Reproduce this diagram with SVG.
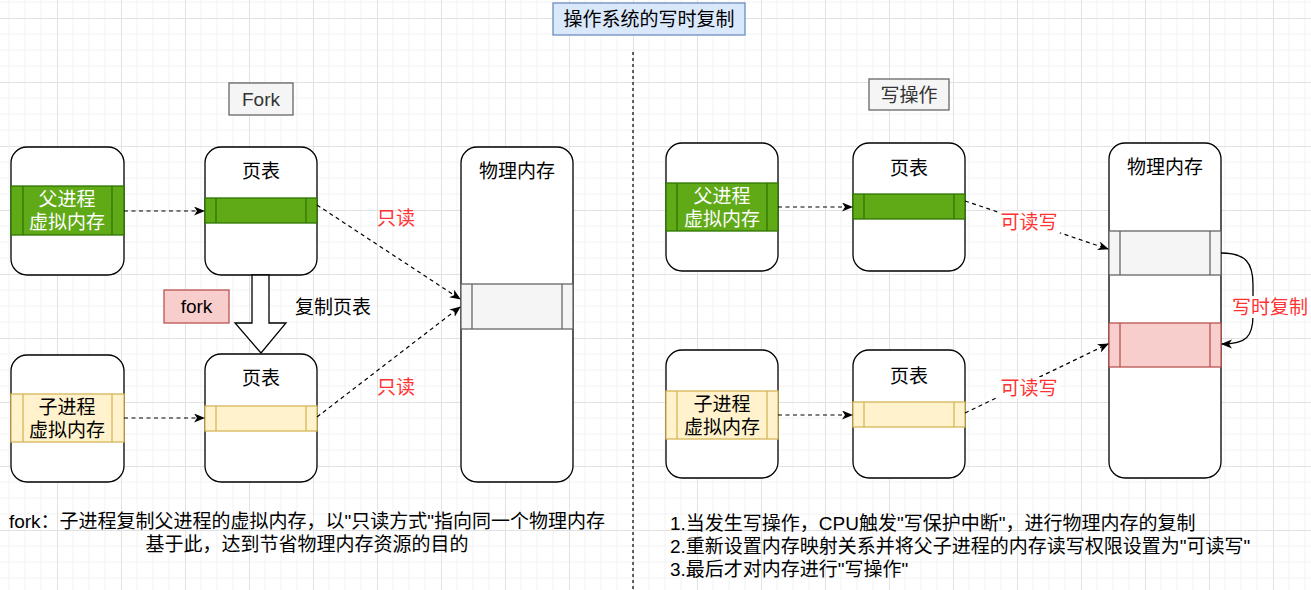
<svg xmlns="http://www.w3.org/2000/svg" width="1311" height="590" viewBox="0 0 1311 590">
<style>
text{font-family:"Liberation Sans","Noto Sans CJK SC",sans-serif;font-size:19px;fill:#000;text-anchor:middle;dominant-baseline:central}
.box{fill:#fff;stroke:#000;stroke-width:1.3}
.green{fill:#60a917;stroke:#2d7600;stroke-width:1.3}
.yellow{fill:#fff2cc;stroke:#d6b656;stroke-width:1.3}
.gray{fill:#f5f5f5;stroke:#666;stroke-width:1.3}
.red{fill:#f8cecc;stroke:#b85450;stroke-width:1.3}
.wt{fill:#fff}
.rt{fill:#ff3333}
.dash{fill:none;stroke:#000;stroke-width:1.2;stroke-dasharray:4 3.5;marker-end:url(#arr)}
.lbg{fill:#fff}
</style>
<defs>
<pattern id="grid" patternUnits="userSpaceOnUse" x="-7" y="-46" width="64" height="64">
<path d="M16,0V64M32,0V64M48,0V64M0,16H64M0,32H64M0,48H64" stroke="#f2f2f2" stroke-width="1" fill="none"/>
<path d="M0.5,0V64M0,0.5H64" stroke="#e2e2e2" stroke-width="1" fill="none"/>
</pattern>
<marker id="arr" markerWidth="12" markerHeight="10" refX="10" refY="4.5" orient="auto" markerUnits="userSpaceOnUse">
<path d="M0,0 L11,4.5 L0,9 L3,4.5 z" fill="#000"/>
</marker>
</defs>
<rect width="1311" height="590" fill="#fff"/>
<rect width="1311" height="590" fill="url(#grid)"/>

<g id="title">
<rect x="553" y="3" width="192" height="32" fill="#dae8fc" stroke="#6c8ebf" stroke-width="1.3"/>
<text x="649" y="19">操作系统的写时复制</text>
</g>
<g id="divider">
<line x1="633" y1="52" x2="633" y2="590" stroke="#000" stroke-width="1.2" stroke-dasharray="3 3"/>
</g>

<!-- left side -->
<g id="fork-title">
<rect x="229" y="83" width="64" height="32" class="gray"/>
<text x="261" y="99" style="fill:#333">Fork</text>
</g>
<g id="parent-vm-left">
<rect x="11" y="147" width="113" height="128" rx="16" class="box"/>
<rect x="11" y="186" width="113" height="49" class="green"/>
<line x1="23" y1="186" x2="23" y2="235" stroke="#2d7600" stroke-width="1.3"/>
<line x1="112" y1="186" x2="112" y2="235" stroke="#2d7600" stroke-width="1.3"/>
<text x="67" y="199" class="wt">父进程</text>
<text x="67" y="222" class="wt">虚拟内存</text>
</g>
<g id="pagetable-top-left">
<rect x="205" y="147" width="112" height="128" rx="16" class="box"/>
<text x="261" y="171">页表</text>
<rect x="205" y="198" width="112" height="25" class="green"/>
<line x1="216" y1="198" x2="216" y2="223" stroke="#2d7600" stroke-width="1.3"/>
<line x1="306" y1="198" x2="306" y2="223" stroke="#2d7600" stroke-width="1.3"/>
</g>
<g id="copy-arrow">
<path d="M252,275 H269 V323 H286 L261,353 L235,323 H252 Z" fill="#fff" stroke="#000" stroke-width="1.3"/>
</g>
<g id="fork-label">
<rect x="164" y="290" width="65" height="33" class="red"/>
<text x="196.5" y="306.5">fork</text>
</g>
<g id="copy-label">
<text x="333" y="307">复制页表</text>
</g>
<g id="child-vm-left">
<rect x="11" y="355" width="113" height="127" rx="16" class="box"/>
<rect x="11" y="394" width="113" height="48" class="yellow"/>
<line x1="23" y1="394" x2="23" y2="442" stroke="#d6b656" stroke-width="1.3"/>
<line x1="112" y1="394" x2="112" y2="442" stroke="#d6b656" stroke-width="1.3"/>
<text x="67" y="407">子进程</text>
<text x="67" y="430">虚拟内存</text>
</g>
<g id="pagetable-bottom-left">
<rect x="205" y="354" width="112" height="128" rx="16" class="box"/>
<text x="261" y="378">页表</text>
<rect x="205" y="406" width="112" height="25" class="yellow"/>
<line x1="216" y1="406" x2="216" y2="431" stroke="#d6b656" stroke-width="1.3"/>
<line x1="306" y1="406" x2="306" y2="431" stroke="#d6b656" stroke-width="1.3"/>
</g>
<g id="physmem-left">
<rect x="461" y="147" width="112" height="335" rx="16" class="box"/>
<text x="517" y="171">物理内存</text>
<rect x="461" y="284" width="112" height="45" class="gray"/>
<line x1="472" y1="284" x2="472" y2="329" stroke="#666" stroke-width="1.3"/>
<line x1="562" y1="284" x2="562" y2="329" stroke="#666" stroke-width="1.3"/>
</g>
<g id="labels-left">
<text x="396" y="218" class="rt">只读</text>
<text x="396" y="387" class="rt">只读</text>
</g>
<g id="note-left">
<text x="307" y="521">fork：子进程复制父进程的虚拟内存，以"只读方式"指向同一个物理内存</text>
<text x="307" y="544">基于此，达到节省物理内存资源的目的</text>
</g>

<!-- right side -->
<g id="write-title">
<rect x="869" y="79" width="80" height="31" class="gray"/>
<text x="909" y="95" style="fill:#333">写操作</text>
</g>
<g id="parent-vm-right">
<rect x="666" y="143" width="112" height="128" rx="16" class="box"/>
<rect x="666" y="183" width="112" height="48" class="green"/>
<line x1="677" y1="183" x2="677" y2="231" stroke="#2d7600" stroke-width="1.3"/>
<line x1="767" y1="183" x2="767" y2="231" stroke="#2d7600" stroke-width="1.3"/>
<text x="722" y="196" class="wt">父进程</text>
<text x="722" y="219" class="wt">虚拟内存</text>
</g>
<g id="pagetable-top-right">
<rect x="853" y="143" width="112" height="128" rx="16" class="box"/>
<text x="909" y="168">页表</text>
<rect x="853" y="194" width="112" height="25" class="green"/>
<line x1="864" y1="194" x2="864" y2="219" stroke="#2d7600" stroke-width="1.3"/>
<line x1="954" y1="194" x2="954" y2="219" stroke="#2d7600" stroke-width="1.3"/>
</g>
<g id="child-vm-right">
<rect x="666" y="350" width="112" height="128" rx="16" class="box"/>
<rect x="666" y="391" width="112" height="48" class="yellow"/>
<line x1="677" y1="391" x2="677" y2="439" stroke="#d6b656" stroke-width="1.3"/>
<line x1="767" y1="391" x2="767" y2="439" stroke="#d6b656" stroke-width="1.3"/>
<text x="722" y="404">子进程</text>
<text x="722" y="427">虚拟内存</text>
</g>
<g id="pagetable-bottom-right">
<rect x="853" y="350" width="112" height="128" rx="16" class="box"/>
<text x="909" y="376">页表</text>
<rect x="853" y="402" width="112" height="25" class="yellow"/>
<line x1="864" y1="402" x2="864" y2="427" stroke="#d6b656" stroke-width="1.3"/>
<line x1="954" y1="402" x2="954" y2="427" stroke="#d6b656" stroke-width="1.3"/>
</g>
<g id="physmem-right">
<rect x="1109" y="143" width="112" height="335" rx="16" class="box"/>
<text x="1165" y="167">物理内存</text>
<rect x="1109" y="231" width="112" height="44" class="gray"/>
<line x1="1120" y1="231" x2="1120" y2="275" stroke="#666" stroke-width="1.3"/>
<line x1="1210" y1="231" x2="1210" y2="275" stroke="#666" stroke-width="1.3"/>
<rect x="1109" y="323" width="112" height="44" class="red"/>
<line x1="1120" y1="323" x2="1120" y2="367" stroke="#b85450" stroke-width="1.3"/>
<line x1="1210" y1="323" x2="1210" y2="367" stroke="#b85450" stroke-width="1.3"/>
</g>
<g id="note-right">
<text x="670" y="523" style="text-anchor:start">1.当发生写操作，CPU触发"写保护中断"，进行物理内存的复制</text>
<text x="670" y="546" style="text-anchor:start">2.重新设置内存映射关系并将父子进程的内存读写权限设置为"可读写"</text>
<text x="670" y="569" style="text-anchor:start">3.最后才对内存进行"写操作"</text>
</g>

<g id="connectors">
<path d="M124,211 H204" class="dash"/>
<path d="M124,418 H204" class="dash"/>
<path d="M317,205 L460,299" class="dash"/>
<path d="M317,417 L460,307" class="dash"/>
<path d="M778,207 H852" class="dash"/>
<path d="M778,415 H852" class="dash"/>
<path d="M965,201 L1108,249" class="dash"/>
<path d="M965,413 L1108,344" class="dash"/>
<path d="M1221,253 C1246,253 1253,263 1253,285 L1253,315 C1253,337 1246,344 1222,344" fill="none" stroke="#000" stroke-width="1.3" marker-end="url(#arr)"/>
<rect x="998" y="211" width="62" height="22" class="lbg"/>
<text x="1029" y="222" class="rt">可读写</text>
<rect x="998" y="377" width="62" height="22" class="lbg"/>
<text x="1029" y="388" class="rt">可读写</text>
<rect x="1234" y="296" width="72" height="22" class="lbg"/>
<text x="1270" y="307" class="rt">写时复制</text>
</g>
</svg>
